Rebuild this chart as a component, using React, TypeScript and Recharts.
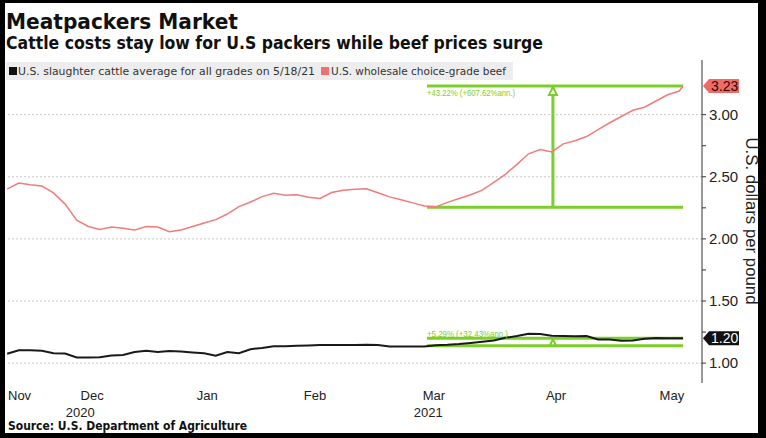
import React from "react";
import { LineChart, Line, XAxis, YAxis, ReferenceLine, ReferenceDot } from "recharts";

// x values are day numbers counted from 1 Nov 2020 (= day 0)
const days = [
  23, 26, 29, 32, 35, 38, 41, 44, 47, 50, 53, 56, 59, 62, 65, 68, 71, 74, 77, 80,
  83, 86, 89, 92, 95, 98, 101, 104, 107, 110, 113, 116, 119, 122, 125, 128, 131, 134, 137, 140,
  143, 146, 149, 152, 155, 158, 161, 164, 167, 170, 173, 176, 179, 182, 185, 188, 191, 194, 197, 198,
];

// U.S. wholesale choice-grade beef, $/lb
const beef = [
  2.4, 2.449, 2.435, 2.425, 2.37, 2.28, 2.15, 2.1, 2.075, 2.095, 2.085, 2.072, 2.1, 2.095, 2.057, 2.072, 2.1, 2.128, 2.155, 2.2,
  2.26, 2.297, 2.34, 2.367, 2.352, 2.355, 2.335, 2.325, 2.373, 2.392, 2.4, 2.403, 2.372, 2.338, 2.315, 2.29, 2.265, 2.258, 2.294, 2.325,
  2.355, 2.392, 2.455, 2.52, 2.6, 2.685, 2.72, 2.7, 2.765, 2.79, 2.824, 2.88, 2.935, 2.985, 3.035, 3.06, 3.11, 3.16, 3.19, 3.23,
];

// U.S. slaughter cattle average for all grades, $/lb
const cattle = [
  1.076, 1.104, 1.104, 1.1, 1.08, 1.078, 1.046, 1.046, 1.048, 1.062, 1.066, 1.089, 1.1, 1.09, 1.097, 1.094, 1.086, 1.08, 1.06, 1.09,
  1.08, 1.112, 1.122, 1.136, 1.136, 1.14, 1.142, 1.145, 1.145, 1.145, 1.146, 1.148, 1.145, 1.134, 1.133, 1.133, 1.133, 1.144, 1.147, 1.153,
  1.162, 1.172, 1.182, 1.204, 1.218, 1.237, 1.235, 1.22, 1.218, 1.216, 1.218, 1.19, 1.19, 1.18, 1.183, 1.197, 1.203, 1.2, 1.2, 1.2,
];

const monthTicks = [22.7, 45, 74.8, 102.7, 133.5, 165.1, 195.1];
const monthLabels = ["Nov", "Dec", "Jan", "Feb", "Mar", "Apr", "May"];
const yearTicks = [41.9, 132];
const yearLabels = ["2020", "2021"];
const priceTicks = [1, 1.25, 1.5, 1.75, 2, 2.25, 2.5, 2.75, 3];
const gridValues = [1, 1.5, 2, 2.5, 3];

// change annotations (12 Mar -> 18 May)
const moveStart = 131.7;
const moveEnd = 198;
const arrowDay = 164.3;
const beefLow = 2.255;
const beefHigh = 3.23;
const cattleLow = 1.14;
const cattleHigh = 1.2;
const beefMoveText = "+43.22% (+607.62%ann.)";
const cattleMoveText = "+5.29% (+32.43%ann.)";

const xDomain = [22.7, 202.9];
const yDomain = [0.84, 3.44];

const data = days.map((d, i) => ({ day: d, beef: beef[i], cattle: cattle[i] }));

const green = "#7ccf2a";
const axisFont = "'Liberation Sans Narrow', 'Liberation Sans', Arial, sans-serif";
const headFont = "'DejaVu Sans', Verdana, sans-serif";

const MonthTick = (props: any) => {
  const { x, y, payload } = props;
  const i = monthTicks.indexOf(payload.value);
  const first = i === 0;
  return (
    <text x={first ? x + 2 : x} y={y} dy={17} textAnchor={first ? "start" : "middle"} fontSize={13} fill="#222" fontFamily={axisFont}>
      {monthLabels[i]}
    </text>
  );
};

const YearTick = (props: any) => {
  const { x, y, payload } = props;
  const i = yearTicks.indexOf(payload.value);
  return (
    <text x={x} y={y} dy={14} textAnchor="middle" fontSize={13} fill="#222" fontFamily={axisFont}>
      {yearLabels[i]}
    </text>
  );
};

const PriceTick = (props: any) => {
  const { x, y, payload } = props;
  if (!gridValues.includes(payload.value)) return <g />;
  return (
    <text x={x} y={y} dy={5} textAnchor="start" fontSize={15} fill="#222" fontFamily={axisFont}>
      {payload.value.toFixed(2)}
    </text>
  );
};

const arrowHead = (size: number) => (p: any) => (
  <polygon
    points={`${p.cx},${p.cy + 1} ${p.cx - size},${p.cy + 1 + size * 2} ${p.cx + size},${p.cy + 1 + size * 2}`}
    fill="#fff"
    stroke={green}
    strokeWidth={2}
  />
);

const moveLabel = (text: string, dy: number, len: number) => (p: any) => (
  <text x={p.cx} y={p.cy + dy} fontSize={9} fill={green} fontFamily={axisFont} textLength={len} lengthAdjust="spacingAndGlyphs">
    {text}
  </text>
);

const valueTag = (text: string, fill: string, color: string) => (p: any) => (
  <g>
    <polygon
      points={`${p.cx + 1},${p.cy} ${p.cx + 7},${p.cy - 7} ${p.cx + 37},${p.cy - 7} ${p.cx + 37},${p.cy + 7} ${p.cx + 7},${p.cy + 7}`}
      fill={fill}
    />
    <text x={p.cx + 9} y={p.cy + 5} fontSize={14} fill={color} fontFamily={axisFont}>
      {text}
    </text>
  </g>
);

export default function App() {
  return (
    <div style={{ position: "absolute", left: 0, top: 0, width: 766, height: 438, background: "#fff" }}>
      <LineChart
        width={766}
        height={438}
        data={data}
        margin={{ top: 60, right: 24, bottom: 17, left: 6 }}
        style={{ position: "absolute", left: 0, top: 0 }}
      >
        <XAxis
          xAxisId="m"
          type="number"
          dataKey="day"
          domain={xDomain}
          ticks={monthTicks}
          tick={<MonthTick />}
          axisLine={false}
          tickLine={false}
          tickSize={0}
          tickMargin={0}
          height={20}
          allowDataOverflow
          interval={0}
        />
        <XAxis
          xAxisId="y"
          type="number"
          dataKey="day"
          domain={xDomain}
          ticks={yearTicks}
          tick={<YearTick />}
          axisLine={false}
          tickLine={false}
          tickSize={0}
          tickMargin={0}
          height={18}
          allowDataOverflow
          interval={0}
        />
        <YAxis
          orientation="right"
          type="number"
          domain={yDomain}
          ticks={priceTicks}
          tick={<PriceTick />}
          axisLine={{ stroke: "#333" }}
          tickLine={{ stroke: "#333" }}
          tickSize={4}
          tickMargin={3}
          width={40}
          allowDataOverflow
          interval={0}
        />
        {gridValues.map((v) => (
          <ReferenceLine key={v} xAxisId="m" y={v} stroke="#c8c8c8" strokeDasharray="2 2" />
        ))}

        <ReferenceLine xAxisId="m" segment={[{ x: moveStart, y: beefHigh }, { x: moveEnd, y: beefHigh }]} stroke={green} strokeWidth={3} />
        <ReferenceLine xAxisId="m" segment={[{ x: moveStart, y: beefLow }, { x: moveEnd, y: beefLow }]} stroke={green} strokeWidth={3} />
        <ReferenceLine xAxisId="m" segment={[{ x: arrowDay, y: beefLow }, { x: arrowDay, y: beefHigh }]} stroke={green} strokeWidth={3} />
        <ReferenceLine xAxisId="m" segment={[{ x: moveStart, y: cattleHigh }, { x: moveEnd, y: cattleHigh }]} stroke={green} strokeWidth={3} />
        <ReferenceLine xAxisId="m" segment={[{ x: moveStart, y: cattleLow }, { x: moveEnd, y: cattleLow }]} stroke={green} strokeWidth={3} />
        <ReferenceLine xAxisId="m" segment={[{ x: arrowDay, y: cattleLow }, { x: arrowDay, y: cattleHigh }]} stroke={green} strokeWidth={2} />

        <Line xAxisId="m" type="linear" dataKey="beef" stroke="#f07c7c" strokeWidth={1.5} dot={false} isAnimationActive={false} />
        <Line xAxisId="m" type="linear" dataKey="cattle" stroke="#1a1a1a" strokeWidth={2} dot={false} isAnimationActive={false} />

        <ReferenceDot xAxisId="m" x={arrowDay} y={beefHigh} shape={arrowHead(4)} ifOverflow="visible" />
        <ReferenceDot xAxisId="m" x={arrowDay} y={cattleHigh} shape={arrowHead(3)} ifOverflow="visible" />
        <ReferenceDot xAxisId="m" x={moveStart} y={beefHigh} shape={moveLabel(beefMoveText, 10, 88)} ifOverflow="visible" />
        <ReferenceDot xAxisId="m" x={moveStart} y={cattleHigh} shape={moveLabel(cattleMoveText, -1, 81)} ifOverflow="visible" />
        <ReferenceDot xAxisId="m" x={xDomain[1]} y={beefHigh} shape={valueTag("3.23", "#f06a66", "#2a0a0a")} ifOverflow="visible" />
        <ReferenceDot xAxisId="m" x={xDomain[1]} y={cattleHigh} shape={valueTag("1.20", "#111", "#fff")} ifOverflow="visible" />
      </LineChart>

      <svg width={766} height={438} style={{ position: "absolute", left: 0, top: 0, pointerEvents: "none" }}>
        <text x={6} y={29} fontSize={21} fontWeight="bold" fill="#111" fontFamily={headFont} textLength={232} lengthAdjust="spacingAndGlyphs">
          Meatpackers Market
        </text>
        <text x={6} y={49} fontSize={17} fontWeight="bold" fill="#111" fontFamily={headFont} textLength={537} lengthAdjust="spacingAndGlyphs">
          Cattle costs stay low for U.S packers while beef prices surge
        </text>
        <rect x={6} y={62} width={507} height={18} fill="#ededed" />
        <rect x={9} y={67} width={8} height={8} fill="#111" />
        <text x={18} y={75} fontSize={11} fill="#333" fontFamily={headFont} textLength={297} lengthAdjust="spacingAndGlyphs">
          U.S. slaughter cattle average for all grades on 5/18/21
        </text>
        <rect x={321} y={67} width={8} height={8} fill="#f07070" />
        <text x={331} y={75} fontSize={11} fill="#333" fontFamily={headFont} textLength={175} lengthAdjust="spacingAndGlyphs">
          U.S. wholesale choice-grade beef
        </text>
        <text
          transform="translate(746,221) rotate(90)"
          textAnchor="middle"
          fontSize={17}
          fill="#222"
          fontFamily={axisFont}
          textLength={167}
          lengthAdjust="spacingAndGlyphs"
        >
          U.S. dollars per pound
        </text>
        <text x={8} y={430} fontSize={12} fontWeight="bold" fill="#111" fontFamily={headFont} textLength={239} lengthAdjust="spacingAndGlyphs">
          Source: U.S. Department of Agriculture
        </text>
      </svg>

      <div
        style={{
          position: "absolute",
          left: 0,
          top: 0,
          width: 766,
          height: 438,
          boxSizing: "border-box",
          border: "solid #000",
          borderWidth: "3px 8px 5px 5px",
          pointerEvents: "none",
        }}
      />
    </div>
  );
}
